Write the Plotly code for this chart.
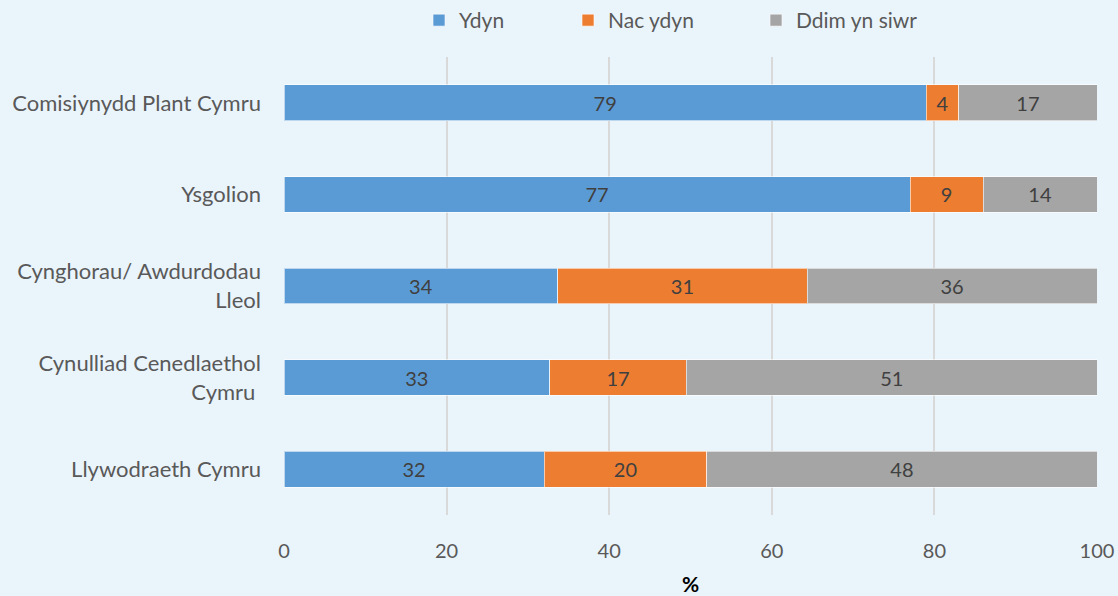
import plotly.graph_objects as go

categories = ["Comisiynydd Plant Cymru", "Ysgolion", "Cynghorau/ Awdurdodau<br>Lleol",
              "Cynulliad Cenedlaethol<br>Cymru ", "Llywodraeth Cymru"]
ydyn = [79, 77, 34, 33, 32]
nac_ydyn = [4, 9, 31, 17, 20]
ddim_yn_siwr = [17, 14, 36, 51, 48]
series_names = ["Ydyn", "Nac ydyn", "Ddim yn siwr"]
colors = ["#5B9BD5", "#ED7D31", "#A5A5A5"]
x_ticks = [0, 20, 40, 60, 80, 100]

font_family = "Lato, 'Open Sans', sans-serif"
legend_ids = ["legend", "legend2", "legend3"]
legend_x = [419, 568, 756]

fig = go.Figure()
for name, vals, col, lg in zip(series_names, [ydyn, nac_ydyn, ddim_yn_siwr], colors, legend_ids):
    fig.add_trace(go.Bar(
        y=categories, x=vals, name=name, orientation="h", legend=lg, showlegend=True,
        marker=dict(color=col, line=dict(color="rgba(255,255,255,0.6)", width=1)),
        text=vals, texttemplate="%{text}", textposition="inside",
        insidetextanchor="middle", textangle=0, constraintext="none",
        textfont=dict(color="#404040", size=20, family=font_family),
    ))

legend_common = dict(orientation="h", xanchor="left", xref="container",
                     y=1.0, yanchor="top", yref="container",
                     font=dict(size=21, color="#595959"), itemwidth=30,
                     bgcolor="rgba(0,0,0,0)")
legends = {lg: dict(legend_common, x=px / 1118) for lg, px in zip(legend_ids, legend_x)}

fig.update_layout(
    showlegend=True,
    barmode="stack", barnorm="percent", bargap=0.61,
    width=1118, height=596,
    margin=dict(l=284, r=21, t=57, b=81, autoexpand=False),
    paper_bgcolor="#EAF4FB", plot_bgcolor="#EAF4FB",
    font=dict(family=font_family, color="#595959", size=20),
    uniformtext=dict(minsize=18, mode="show"),
    xaxis=dict(range=[0, 100], tickvals=x_ticks, showgrid=True, automargin=False,
               gridcolor="#D9D9D9", gridwidth=2, zeroline=False,
               tickfont=dict(size=20, color="#595959"), ticklabelstandoff=22,
               title=dict(text="<b>%</b>", font=dict(size=21, color="#000000"), standoff=20)),
    yaxis=dict(categoryorder="array", categoryarray=categories[::-1], automargin=False,
               showgrid=False, ticklabelstandoff=22,
               tickfont=dict(size=22, color="#595959")),
    **legends,
)
fig.write_html("out.html", post_script="document.body.style.margin='0';",
               config={"displayModeBar": False})
